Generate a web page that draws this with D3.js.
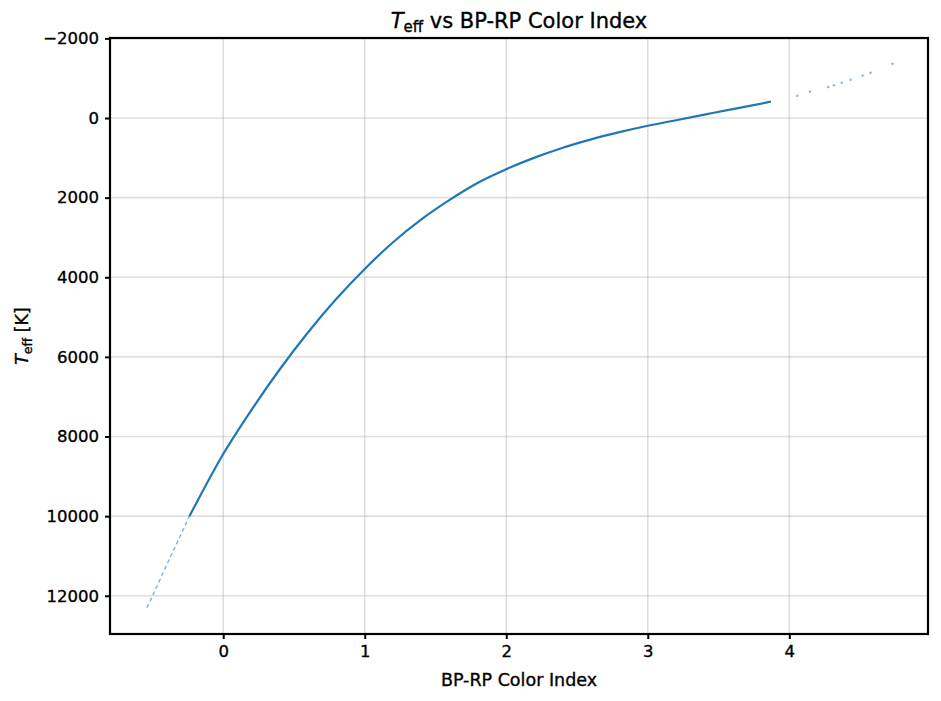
<!DOCTYPE html>
<html>
<head>
<meta charset="utf-8">
<script src="https://cdn.jsdelivr.net/npm/d3@7"></script>
<style>
  body { margin: 0; background: #fff; }
  svg { font-family: "DejaVu Sans", sans-serif; }
  svg text { stroke: #000; stroke-width: 0.35px; }
</style>
</head>
<body>
<svg id="chart" width="941" height="701"></svg>
<script>
// dense part of the sequence (bp-rp, teff)
var denseBp   = [-0.24, -0.2, 0.0, 0.2, 0.4, 0.6, 0.8, 1.0, 1.2, 1.4, 1.6, 1.8, 2.0, 2.2, 2.4, 2.6, 2.8, 3.0, 3.2, 3.4, 3.6, 3.87]
var denseTeff = [10010, 9740, 8440, 7330, 6310, 5380, 4540, 3790, 3120, 2545, 2055, 1625, 1285, 995, 745, 535, 355, 195, 55, -85, -225, -410]

// sparse blue end
var blueBp   = [-0.54, -0.497, -0.438, -0.374, -0.304, -0.24]
var blueTeff = [12300, 11985, 11525, 11030, 10500, 10010]

// sparse red end
var redBp   = [4.056, 4.146, 4.275, 4.315, 4.371, 4.433, 4.518, 4.574, 4.729]
var redTeff = [-561, -662, -779, -821, -888, -963, -1064, -1139, -1365]

var xTicks = [0, 1, 2, 3, 4]
var yTicks = [-2000, 0, 2000, 4000, 6000, 8000, 10000, 12000]

var margin = {left: 110, right: 13, top: 38, bottom: 67}
var width = 941, height = 701
var blue = "#1f77b4"

var x = d3.scaleLinear([-0.80, 4.98], [margin.left, width - margin.right])
var y = d3.scaleLinear([-2010, 12960], [margin.top, height - margin.bottom])

var svg = d3.select("#chart")

// grid
var grid = svg.append("g").attr("stroke", "#b0b0b0").attr("stroke-opacity", 0.4).attr("stroke-width", 1.6)
grid.selectAll(".gx").data(xTicks).join("line")
  .attr("x1", d => x(d)).attr("x2", d => x(d))
  .attr("y1", margin.top).attr("y2", height - margin.bottom)
grid.selectAll(".gy").data(yTicks).join("line")
  .attr("y1", d => y(d)).attr("y2", d => y(d))
  .attr("x1", margin.left).attr("x2", width - margin.right)

var line = d3.line().x(d => x(d[0])).y(d => y(d[1])).curve(d3.curveMonotoneX)

var plot = svg.append("g")
  .attr("fill", "none")
  .attr("stroke", blue)

plot.append("path")
  .datum(d3.zip(blueBp, blueTeff))
  .attr("d", line)
  .attr("stroke-width", 1.4)
  .attr("stroke-opacity", 0.55)
  .attr("stroke-dasharray", "4,3")

plot.append("path")
  .datum(d3.zip(denseBp, denseTeff))
  .attr("d", line)
  .attr("stroke-width", 2.2)

svg.append("g")
  .attr("fill", blue)
  .attr("fill-opacity", 0.55)
  .selectAll("circle")
  .data(d3.zip(redBp, redTeff))
  .join("circle")
  .attr("cx", d => x(d[0]))
  .attr("cy", d => y(d[1]))
  .attr("r", 1.2)

// axes
var fmt = d3.format("d")
var xAxis = svg.append("g")
  .attr("transform", `translate(0,${height - margin.bottom})`)
  .call(d3.axisBottom(x).tickValues(xTicks).tickFormat(fmt).tickSize(5).tickPadding(6))
var yAxis = svg.append("g")
  .attr("transform", `translate(${margin.left},0)`)
  .call(d3.axisLeft(y).tickValues(yTicks).tickFormat(fmt).tickSize(5).tickPadding(6))

for (var ax of [xAxis, yAxis]) {
  ax.select(".domain").remove()
  ax.selectAll("line").attr("stroke", "#000").attr("stroke-width", 2)
  ax.selectAll("text").attr("font-size", 16.5).attr("fill", "#000")
    .attr("font-family", "DejaVu Sans")
}

// frame
svg.append("rect")
  .attr("x", margin.left).attr("y", margin.top)
  .attr("width", width - margin.left - margin.right)
  .attr("height", height - margin.top - margin.bottom)
  .attr("fill", "none").attr("stroke", "#000").attr("stroke-width", 2.2)

var cx = (margin.left + width - margin.right) / 2

// title
var title = svg.append("text")
  .attr("x", cx).attr("y", 28)
  .attr("text-anchor", "middle")
  .attr("font-size", 21)
title.append("tspan").attr("font-style", "italic").text("T")
title.append("tspan").attr("font-size", 15).attr("dy", 4).text("eff")
title.append("tspan").attr("dy", -4).text(" vs BP-RP Color Index")

svg.append("text")
  .attr("x", cx).attr("y", 686)
  .attr("text-anchor", "middle")
  .attr("font-size", 17.5)
  .text("BP-RP Color Index")

var ylab = svg.append("text")
  .attr("transform", `translate(28,${(margin.top + height - margin.bottom) / 2}) rotate(-90)`)
  .attr("text-anchor", "middle")
  .attr("font-size", 17.5)
ylab.append("tspan").attr("font-style", "italic").text("T")
ylab.append("tspan").attr("font-size", 12.5).attr("dy", 3.5).text("eff")
ylab.append("tspan").attr("dy", -3.5).text(" [K]")
</script>
</body>
</html>
